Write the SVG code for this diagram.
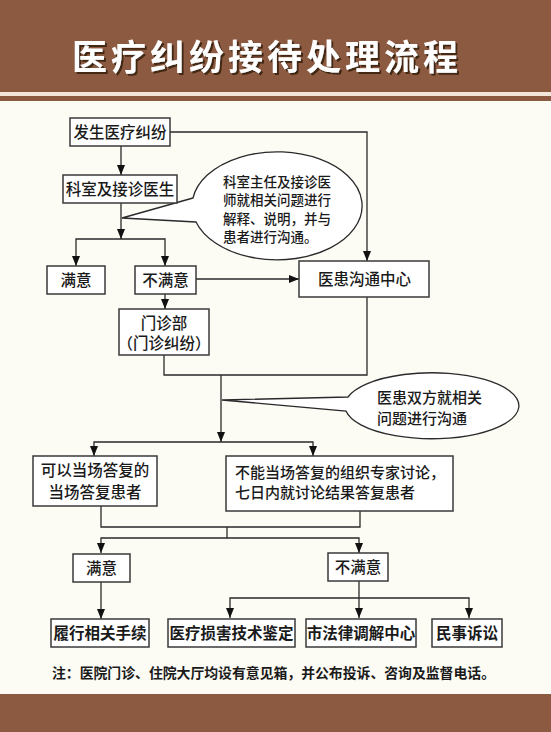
<svg xmlns="http://www.w3.org/2000/svg" width="551" height="732" viewBox="0 0 551 732">
<defs>
<marker id="arr" markerUnits="userSpaceOnUse" markerWidth="10" markerHeight="10" viewBox="0 0 10 10" refX="10" refY="5" orient="auto">
<path d="M0,1 L10,5 L0,9 Z" fill="#111"/>
</marker>
<filter id="sh" x="-5%" y="-20%" width="110%" height="140%">
<feDropShadow dx="2" dy="2" stdDeviation="0.6" flood-color="#3a2010" flood-opacity="0.9"/>
</filter>
</defs>
<style>
text{font-family:"Noto Sans CJK SC","Noto Sans",sans-serif;fill:#1a1a1a;font-weight:500}
.box{fill:#fff;stroke:#3a3a3a;stroke-width:1.5}
.t{font-size:15.5px;text-anchor:middle}
.tl{font-size:15px}
.bt{font-size:15.5px;text-anchor:middle;font-weight:600}
.ln{fill:none;stroke:#2a2a2a;stroke-width:1.3}
.ar{marker-end:url(#arr)}
.bub{fill:#fff;stroke:#2a2a2a;stroke-width:1.3}
</style>
<rect x="0" y="0" width="551" height="732" fill="#FCFBF4"/>
<rect x="0" y="0" width="551" height="92" fill="#8C5A41"/>
<rect x="0" y="92" width="551" height="4" fill="#F1E6D8"/>
<rect x="0" y="96" width="551" height="5" fill="#8C5A41"/>
<rect x="0" y="694" width="551" height="38" fill="#8C5A41"/>
<text x="72" y="70" textLength="386" lengthAdjust="spacing" style="font-size:35px;font-weight:bold;fill:#fff" filter="url(#sh)">医疗纠纷接待处理流程</text>

<g id="connectors">
<path class="ln ar" d="M121,146 V175"/>
<path class="ln ar" d="M170,132 H367 V261"/>
<path class="ln ar" d="M121,203 V239"/>
<path class="ln ar" d="M121,239 H76 V266"/>
<path class="ln ar" d="M121,239 H165 V266"/>
<path class="ln ar" d="M196,279 H299"/>
<path class="ln ar" d="M165,294 V309"/>
<path class="ln" d="M164,355 V375 H367 V297"/>
<path class="ln ar" d="M221,375 V442"/>
<path class="ln ar" d="M221,442 H94 V456"/>
<path class="ln ar" d="M221,442 H313 V456"/>
<path class="ln" d="M101,506 V527 H360 V511"/>
<path class="ln" d="M227,527 V538"/>
<path class="ln ar" d="M227,538 H101 V553"/>
<path class="ln ar" d="M227,538 H359 V553"/>
<path class="ln ar" d="M101,582 V619"/>
<path class="ln ar" d="M359,581 V618"/>
<path class="ln ar" d="M359,598 H230 V618"/>
<path class="ln ar" d="M359,598 H469 V618"/>
</g>

<g id="callout1">
<path class="bub" d="M193,198 L122,218 L196,222 A85,54 0 1 0 193,198 Z"/>
<text x="223" y="187" style="font-size:13.5px">科室主任及接诊医</text>
<text x="223" y="205.3" style="font-size:13.5px">师就相关问题进行</text>
<text x="223" y="223.6" style="font-size:13.5px">解释、说明，并与</text>
<text x="223" y="242" style="font-size:13.5px">患者进行沟通。</text>
</g>

<g id="callout2">
<path class="bub" d="M348,397 L222,400 L346,411 A87,33 0 1 0 348,397 Z"/>
<text x="377" y="402.5" class="tl">医患双方就相关</text>
<text x="377" y="423.5" class="tl">问题进行沟通</text>
</g>

<g id="n1"><rect class="box" x="70" y="118" width="100" height="28"/><text class="t" x="120" y="137.6">发生医疗纠纷</text></g>
<g id="n2"><rect class="box" x="63" y="175" width="114" height="28"/><text class="t" x="120" y="194.6">科室及接诊医生</text></g>
<g id="n3"><rect class="box" x="47" y="266" width="58" height="28"/><text class="t" x="76" y="285.6">满意</text></g>
<g id="n4"><rect class="box" x="135" y="266" width="61" height="28"/><text class="t" x="165.5" y="285.6">不满意</text></g>
<g id="n5"><rect class="box" x="299" y="261" width="130" height="36"/><text class="t" x="364.5" y="284.6">医患沟通中心</text></g>
<g id="n6"><rect class="box" x="119" y="309" width="90" height="46"/><text class="t" x="164" y="328.6">门诊部</text><text class="t" x="164" y="348.6">（门诊纠纷）</text></g>
<g id="n7"><rect class="box" x="33" y="456" width="124" height="50"/><text class="t" x="95" y="475.6">可以当场答复的</text><text class="t" x="95" y="497.6">当场答复患者</text></g>
<g id="n8"><rect class="box" x="226" y="456" width="227" height="55"/><text class="tl" x="235" y="478.4">不能当场答复的组织专家讨论，</text><text class="tl" x="235" y="498.4">七日内就讨论结果答复患者</text></g>
<g id="n9"><rect class="box" x="73" y="554" width="57" height="28"/><text class="t" x="101.5" y="573.6">满意</text></g>
<g id="n10"><rect class="box" x="328" y="553" width="60" height="28"/><text class="t" x="358" y="572.6">不满意</text></g>
<g id="n11"><rect class="box" x="51" y="619" width="98" height="28"/><text class="bt" x="100" y="638.6">履行相关手续</text></g>
<g id="n12"><rect class="box" x="168" y="619" width="127" height="28"/><text class="bt" x="231.5" y="638.6">医疗损害技术鉴定</text></g>
<g id="n13"><rect class="box" x="306" y="619" width="110" height="28"/><text class="bt" x="361" y="638.6">市法律调解中心</text></g>
<g id="n14"><rect class="box" x="432" y="619" width="70" height="28"/><text class="bt" x="467" y="638.6">民事诉讼</text></g>

<text x="52" y="678" textLength="443" lengthAdjust="spacingAndGlyphs" style="font-size:14px;font-weight:bold">注：医院门诊、住院大厅均设有意见箱，并公布投诉、咨询及监督电话。</text>
</svg>
